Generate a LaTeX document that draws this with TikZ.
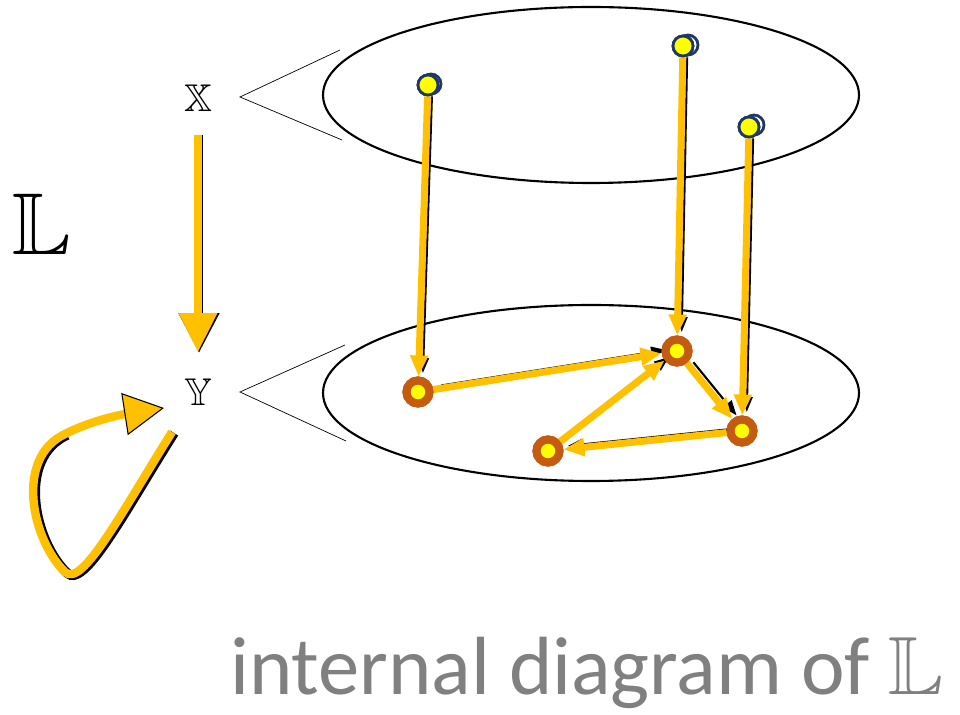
\documentclass[tikz,border=0pt]{standalone}
\usepackage{amsmath,amssymb}
\usepackage{fontspec}
\newfontfamily\capfont{Carlito}
\usetikzlibrary{arrows.meta,calc}
\definecolor{mapgold}{RGB}{255,192,0}
\definecolor{ptbrown}{RGB}{197,90,17}
\definecolor{ptnavy}{RGB}{31,56,100}
\definecolor{ptyellow}{RGB}{255,255,0}

\begin{document}
\begin{tikzpicture}[x=0.02cm,y=-0.02cm,>=Stealth,
    topPt/.style={circle,draw=ptnavy,line width=1.6pt,fill=ptyellow,inner sep=0pt,minimum size=0.4cm},
    botPt/.style={circle,draw=ptbrown,line width=4.6pt,fill=ptyellow,inner sep=0pt,minimum size=0.46cm},
    mapArrow/.style={draw=mapgold,line width=4pt,-{Triangle[length=0.42cm,width=0.34cm]}},
    shadowArrow/.style={draw=black,line width=1.2pt,-{Triangle[length=0.3cm,width=0.22cm]},
        transform canvas={xshift=2.5pt,yshift=2pt}}]
    \useasboundingbox (0,0) rectangle (960,715);

    % sets
    \draw[line width=1.2pt] (591,95) ellipse [x radius=268,y radius=88];
    \draw[line width=1.2pt] (591,393) ellipse [x radius=268,y radius=88];

    % labels
    \node (L) at (42,224) {\fontsize{50}{56}\selectfont$\mathbb{L}$};
    \node (X) at (198,98) {\fontsize{22}{26}\selectfont$\mathbb{X}$};
    \node (Y) at (198,392) {\fontsize{22}{26}\selectfont$\mathbb{Y}$};
    \coordinate (xtip) at (240,97);
    \coordinate (ytip) at (240,392);
    \draw[thin] (340,50) -- (xtip) -- (342,140);
    \draw[thin] (345,345) -- (ytip) -- (346,441);

    % the map L : X -> Y
    \draw[draw=black,line width=4.6pt,-{Triangle[length=0.8cm,width=0.78cm]}] (199,135) -- (199,353);
    \draw[draw=mapgold,fill=mapgold,line width=4pt,-{Triangle[length=0.78cm,width=0.74cm]}] (198,135) -- (198,352);

    % loop
    \draw[draw=black,line width=5.4pt,transform canvas={xshift=1.2pt,yshift=-0.6pt}]
        (172,432) .. controls (120,515) and (82,588) .. (65,572)
        .. controls (32,540) and (14,458) .. (65,434);
    \draw[draw=mapgold,line width=4.8pt,-{Triangle[length=0.8cm,width=0.85cm,fill=mapgold,color=black,line width=0.6pt]}]
        (172,432) .. controls (120,515) and (82,588) .. (65,572)
        .. controls (32,540) and (14,458) .. (65,434)
        .. controls (92,420) and (125,414) .. (164,408);

    % elements of X (ghost rings first)
    \draw[ptnavy,line width=1.6pt,fill=white] (431,84) circle (0.2cm);
    \draw[ptnavy,line width=1.6pt,fill=white] (688,45) circle (0.2cm);
    \draw[ptnavy,line width=1.6pt,fill=white] (754,125) circle (0.2cm);
    \node[topPt] (p1) at (428,85) {};
    \node[topPt] (p2) at (683,46) {};
    \node[topPt] (p3) at (749,127) {};

    % elements of Y
    \node[botPt] (q1) at (418,392) {};
    \node[botPt] (q2) at (677,351) {};
    \node[botPt] (q3) at (742,431) {};
    \node[botPt] (q4) at (548,451) {};

    % black shadows
    \foreach \a/\b in {p1/q1,p2/q2,p3/q3,q1/q2,q2/q3,q3/q4,q4/q2}
        \draw[shadowArrow,shorten <=2pt] (\a) -- (\b);

    % mappings
    \foreach \a/\b in {p1/q1,p2/q2,p3/q3,q1/q2,q2/q3,q3/q4,q4/q2}
        \draw[mapArrow] (\a) -- (\b);

    % redraw points on top
    \foreach \p in {p1,p2,p3}
        \node[topPt] at (\p) {};
    \foreach \q in {q1,q2,q3,q4}
        \node[botPt] at (\q) {};

    % caption
    \node[text=black!50,anchor=base] (cap) at (587,694)
        {\fontsize{47}{52}\selectfont\capfont internal diagram of $\mathbb{L}$};
\end{tikzpicture}
\end{document}
